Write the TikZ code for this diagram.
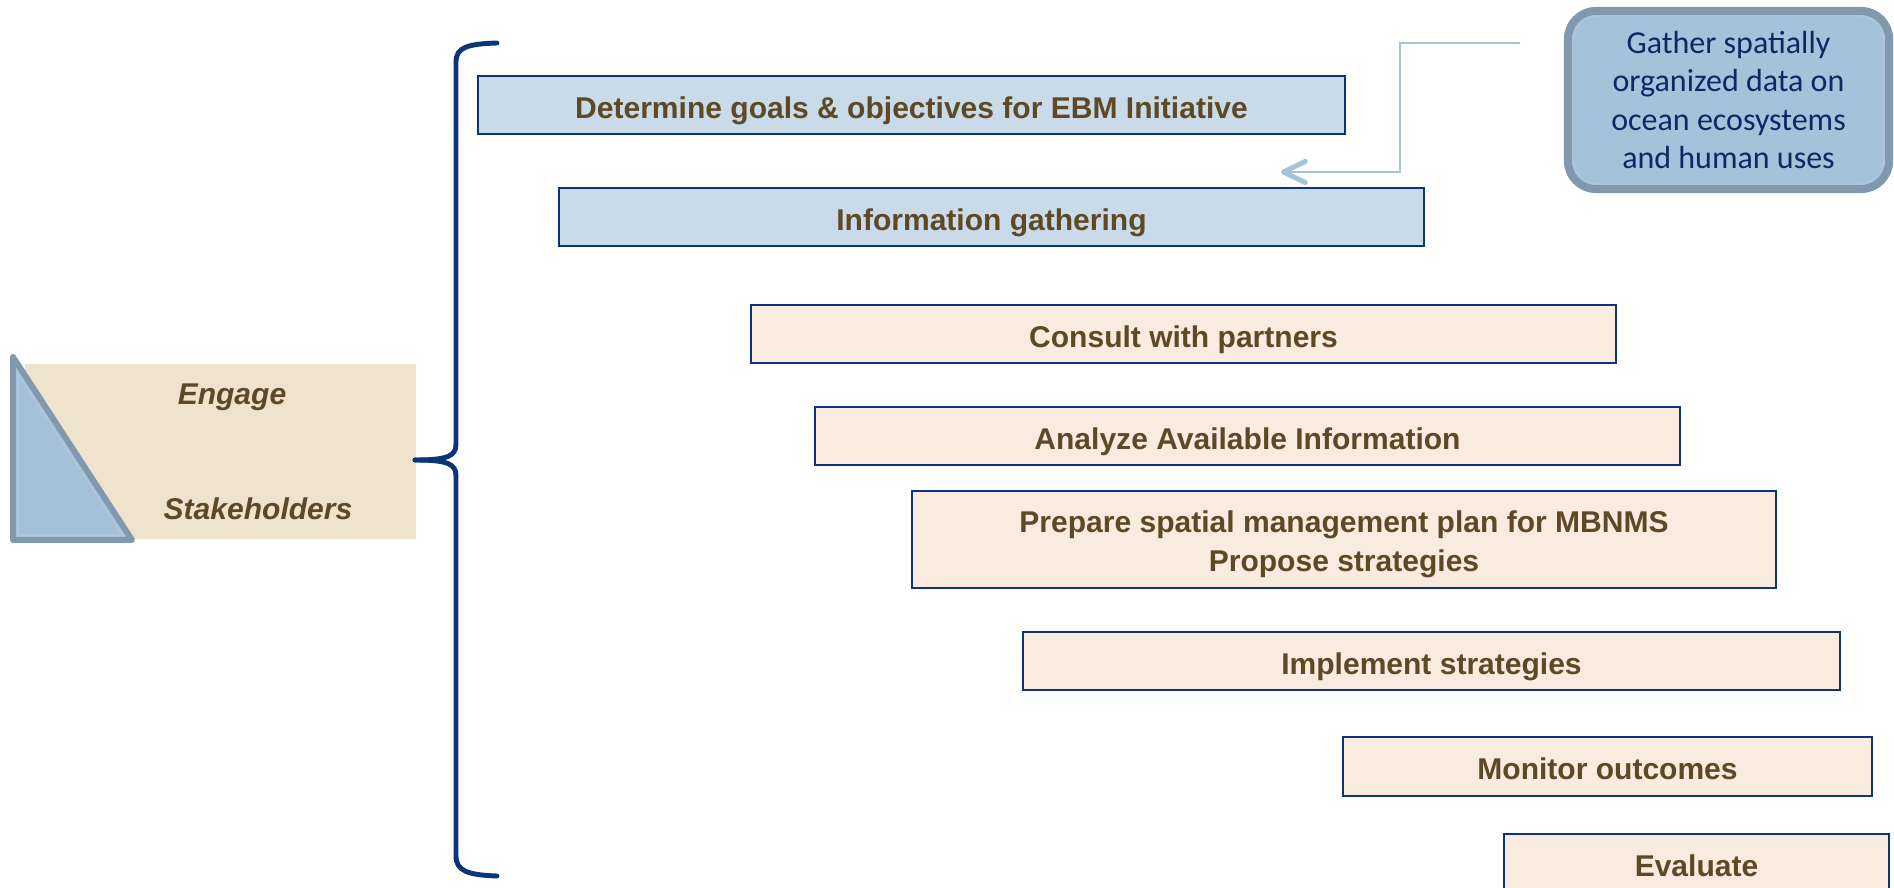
\documentclass[tikz,border=0pt]{standalone}
\usepackage{fontspec}
\setmainfont{Liberation Sans}
\newfontfamily\calib{Carlito}
\usetikzlibrary{arrows.meta}
\definecolor{navy}{RGB}{11,53,120}
\definecolor{boxblue}{RGB}{201,219,233}
\definecolor{peach}{RGB}{249,235,224}
\definecolor{txtbrown}{RGB}{94,73,38}
\definecolor{beige}{RGB}{239,227,206}
\definecolor{trifill}{RGB}{163,193,217}
\definecolor{tristroke}{RGB}{128,153,175}
\definecolor{trilight}{RGB}{178,198,215}
\definecolor{gfill}{RGB}{164,195,218}
\definecolor{gtext}{RGB}{15,40,100}
\definecolor{arrowblue}{RGB}{164,195,218}
\tikzset{
  stepfont/.style={font=\bfseries\fontsize{8.54}{11.1}\selectfont, text=txtbrown, align=center},
  stepbox/.style={draw=navy, line width=0.6pt, inner sep=0pt, stepfont,
    text height=7.4pt, text depth=0pt},
  bluebox/.style={stepbox, fill=boxblue},
  peachbox/.style={stepbox, fill=peach},
  brace/.style={draw=navy, line width=1.4pt, line cap=round, line join=round},
  engtext/.style={font=\bfseries\itshape\fontsize{8.54}{11.1}\selectfont, text=txtbrown, inner sep=0pt},
  link/.style={draw=arrowblue, line width=0.6pt,
    -{Straight Barb[length=6.2pt,width=6pt,line width=1.4pt,round]}},
}
\begin{document}
\begin{tikzpicture}[x=0.01cm,y=-0.01cm]
\useasboundingbox (0,0) rectangle (1894,888);
\clip (0,0) rectangle (1894,888);

% Engage stakeholders panel
\node[fill=beige, minimum width=3.91cm, minimum height=1.75cm, inner sep=0pt] (eng) at (220.5,451.5) {};
\draw[draw=tristroke, fill=trifill, line width=1.7pt, line join=round] (13,357) -- (13,540) -- (132,540) -- cycle;
\draw[draw=trilight, line width=0.45pt, line join=round] (18,374) -- (18,535) -- (122.8,535) -- cycle;
\node[engtext] (engage) at (232,397) {Engage};
\node[engtext] (stake) at (258,509) {Stakeholders};

% brace
\draw[brace] (497,43) .. controls (468,44) and (456,47) .. (456,62) -- (456,444)
  .. controls (456,456) and (448,460) .. (415,460);
\draw[brace] (415,460) .. controls (448,460) and (456,464) .. (456,476) -- (456,856)
  .. controls (456,871) and (468,875) .. (497,876);

% steps
\node[bluebox, minimum width=8.67cm, minimum height=0.58cm] (b1) at (911.5,105) {Determine goals \& objectives for EBM Initiative};
\node[bluebox, minimum width=8.65cm, minimum height=0.58cm] (b2) at (991.5,217) {Information gathering};
\node[peachbox, minimum width=8.65cm, minimum height=0.58cm] (b3) at (1183.5,334) {Consult with partners};
\node[peachbox, minimum width=8.65cm, minimum height=0.58cm] (b4) at (1247.5,436) {Analyze Available Information};
\node[peachbox, minimum width=8.64cm, minimum height=0.97cm] (b5) at (1344,539.5) {};
\node[stepfont, inner sep=0pt] (b5t) at (1344,544) {Prepare spatial management plan for MBNMS\\Propose strategies};
\node[peachbox, minimum width=8.17cm, minimum height=0.58cm] (b6) at (1431.5,661) {Implement strategies};
\node[peachbox, minimum width=5.29cm, minimum height=0.59cm] (b7) at (1607.5,766.5) {Monitor outcomes};
\node[peachbox, minimum width=3.85cm, minimum height=0.58cm] (b8) at (1696.5,863) {Evaluate};

% gather box
\node[draw=tristroke, fill=gfill, line width=2.28pt, rounded corners=0.28cm,
      minimum width=3.21cm, minimum height=1.78cm, inner sep=0pt, align=center,
      font=\calib\fontsize{9.1}{10.95}\selectfont, text=gtext] (g) at (1728.5,100)
      {\raisebox{-2pt}{\parbox{3cm}{\centering Gather spatially\\organized data on\\ocean ecosystems\\and human uses}}};
\draw[draw=trilight, line width=0.4pt, rounded corners=0.24cm] (1573,16) rectangle (1884,184);

% connector
\coordinate (gs) at (1520,43);
\coordinate (gk) at (1400,172);
\coordinate (gt) at (1281,172);
\draw[link] (gs) -| (gk) -- (gt);
\end{tikzpicture}
\end{document}
